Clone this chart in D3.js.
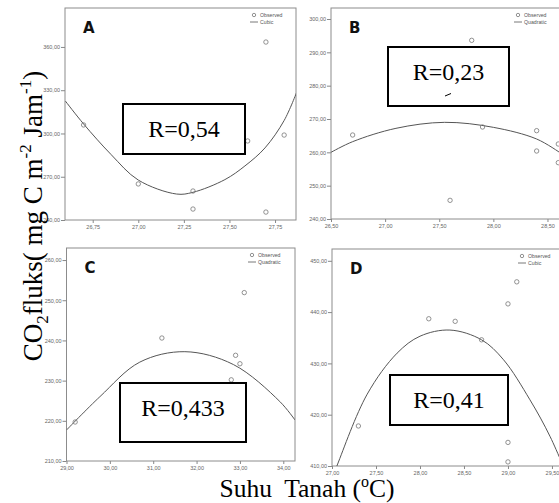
<!DOCTYPE html>
<html>
<head>
<meta charset="utf-8">
<script src="https://cdn.jsdelivr.net/npm/d3@7"></script>
<style>
	body { margin: 0; background: #fff; }
	svg { display: block; }
	.tick text { font-family: "Liberation Sans", Arial, sans-serif; font-size: 5.5px; fill: #666; }
	.tick line { stroke: #888; }
</style>
</head>
<body>
<script>

// observed points
var aObsX = [26.70, 27.00, 27.30, 27.30, 27.60, 27.70, 27.70, 27.80];
var aObsY = [305.9, 265.0, 260.1, 247.6, 294.8, 363.4, 245.5, 298.9];
var bObsX = [26.70, 27.60, 27.80, 27.90, 28.40, 28.40, 28.60, 28.60];
var bObsY = [265.2, 245.6, 293.6, 267.6, 266.5, 260.4, 262.5, 256.9];
var cObsX = [29.20, 31.20, 32.80, 32.90, 33.00, 33.10];
var cObsY = [219.7, 240.6, 230.2, 236.3, 234.2, 251.9];
var dObsX = [27.30, 28.10, 28.40, 28.70, 29.00, 29.10, 29.00, 29.00];
var dObsY = [417.8, 438.7, 438.2, 434.6, 441.6, 445.9, 414.6, 410.8];

// fitted curves, points
var aFitX = [26.60, 26.70, 26.85, 27.00, 27.21, 27.30, 27.475, 27.585, 27.695, 27.80, 27.87];
var aFitY = [322.5, 306.6, 285.5, 267.7, 258.0, 259.2, 268.0, 277.5, 290.0, 309.0, 329.0];
var bFitX = [26.50, 26.70, 27.10, 27.55, 28.00, 28.40, 28.62];
var bFitY = [260.0, 263.2, 267.2, 269.0, 267.5, 264.0, 259.8];
var cFitX = [29.00, 29.77, 30.69, 31.73, 32.85, 33.92, 34.27];
var cFitY = [217.7, 226.0, 234.6, 237.2, 234.0, 224.8, 220.2];
var dFitX = [27.00, 27.06, 27.40, 27.74, 28.00, 28.34, 28.70, 28.95, 29.25, 29.48, 29.70];
var dFitY = [407.5, 410.2, 424.0, 432.0, 435.3, 436.5, 434.6, 430.7, 422.9, 415.7, 407.0];

// tick values
var aXTicks = [26.75, 27.00, 27.25, 27.50, 27.75];
var aYTicks = [240, 270, 300, 330, 360];
var bXTicks = [26.50, 27.00, 27.50, 28.00, 28.50];
var bYTicks = [240, 250, 260, 270, 280, 290, 300];
var cXTicks = [29, 30, 31, 32, 33, 34];
var cYTicks = [210, 220, 230, 240, 250, 260];
var dXTicks = [27.00, 27.50, 28.00, 28.50, 29.00, 29.50];
var dYTicks = [410, 420, 430, 440, 450];

var panelLabels = ["A", "B", "C", "D"];
var fitLabels = ["Cubic", "Quadratic", "Quadratic", "Cubic"];
var rLabels = ["R=0,54", "R=0,23", "R=0,433", "R=0,41"];

var W = 559, H = 503;
var fmt = d3.formatLocale({decimal: ",", thousands: ".", grouping: [3], currency: ["", ""]}).format(".2f");

var svg = d3.select("body")
	.append("svg")
		.attr("width", W)
		.attr("height", H);

// panel layout: frame in pixels, domains, and the R box
var panels = [
	{ obsX: aObsX, obsY: aObsY, fitX: aFitX, fitY: aFitY, xt: aXTicks, yt: aYTicks,
	  x0: 65, x1: 296, y0: 8, y1: 220, xd: [26.598, 27.865], yd: [240, 387],
	  box: [123, 104, 122, 50], rBase: 137, legX: 254 },
	{ obsX: bObsX, obsY: bObsY, fitX: bFitX, fitY: bFitY, xt: bXTicks, yt: bYTicks,
	  x0: 331, x1: 561, y0: 8, y1: 219, xd: [26.5, 28.625], yd: [240, 303.3],
	  box: [388, 47, 121, 59], rBase: 80, legX: 518 },
	{ obsX: cObsX, obsY: cObsY, fitX: cFitX, fitY: cFitY, xt: cXTicks, yt: cYTicks,
	  x0: 66.5, x1: 295, y0: 248, y1: 461, xd: [29, 34.27], yd: [210, 263],
	  box: [120, 383, 126, 59], rBase: 416, legX: 252 },
	{ obsX: dObsX, obsY: dObsY, fitX: dFitX, fitY: dFitY, xt: dXTicks, yt: dYTicks,
	  x0: 332, x1: 570, y0: 249, y1: 466, xd: [27, 29.705], yd: [410, 452.3],
	  box: [390, 375, 118, 50], rBase: 408, legX: 522 }
];

panels.forEach(function(p, i) {
	var x = d3.scaleLinear().domain(p.xd).range([p.x0, p.x1]);
	var y = d3.scaleLinear().domain(p.yd).range([p.y1, p.y0]);
	var g = svg.append("g").attr("class", "panel");

	// clip for the fitted line
	svg.append("clipPath")
		.attr("id", "clip" + i)
		.append("rect")
			.attr("x", p.x0).attr("y", p.y0)
			.attr("width", p.x1 - p.x0).attr("height", p.y1 - p.y0);

	// frame
	g.append("rect")
		.attr("x", p.x0).attr("y", p.y0)
		.attr("width", p.x1 - p.x0).attr("height", p.y1 - p.y0)
		.attr("fill", "#fff")
		.attr("stroke", "#8c8c8c")
		.attr("stroke-width", 1);

	// axes
	g.append("g")
		.attr("transform", "translate(0," + p.y1 + ")")
		.call(d3.axisBottom(x).tickValues(p.xt).tickSize(3).tickPadding(2).tickFormat(fmt))
		.call(function(a) { a.select(".domain").remove(); });

	g.append("g")
		.attr("transform", "translate(" + p.x0 + ",0)")
		.call(d3.axisLeft(y).tickValues(p.yt).tickSize(4).tickPadding(1).tickFormat(fmt))
		.call(function(a) { a.select(".domain").remove(); });

	// fitted curve
	var fit = p.fitX.map(function(v, k) { return [v, p.fitY[k]]; });
	g.append("path")
		.datum(fit)
		.attr("clip-path", "url(#clip" + i + ")")
		.attr("fill", "none")
		.attr("stroke", "#555")
		.attr("stroke-width", 1)
		.attr("d", d3.line()
			.x(function(d) { return x(d[0]); })
			.y(function(d) { return y(d[1]); })
			.curve(d3.curveCatmullRom.alpha(0.5)));

	// observed points
	var obs = p.obsX.map(function(v, k) { return [v, p.obsY[k]]; });
	g.selectAll("circle.obs")
		.data(obs)
		.enter()
		.append("circle")
			.attr("class", "obs")
			.attr("cx", function(d) { return x(d[0]); })
			.attr("cy", function(d) { return y(d[1]); })
			.attr("r", 2.2)
			.attr("fill", "none")
			.attr("stroke", "#777")
			.attr("stroke-width", 0.8);

	// panel letter
	g.append("text")
		.attr("x", p.x0 + 18)
		.attr("y", p.y0 + 25)
		.attr("font-family", "DejaVu Sans, sans-serif")
		.attr("font-weight", "bold")
		.attr("font-size", 15)
		.attr("fill", "#111")
		.text(panelLabels[i]);

	// legend
	var lg = g.append("g")
		.attr("font-family", "Liberation Sans, Arial, sans-serif")
		.attr("font-size", 5.2)
		.attr("fill", "#555");
	lg.append("circle")
		.attr("cx", p.legX).attr("cy", p.y0 + 7)
		.attr("r", 1.7)
		.attr("fill", "none")
		.attr("stroke", "#666")
		.attr("stroke-width", 0.7);
	lg.append("text")
		.attr("x", p.legX + 6).attr("y", p.y0 + 9)
		.text("Observed");
	lg.append("line")
		.attr("x1", p.legX - 4).attr("x2", p.legX + 4)
		.attr("y1", p.y0 + 14).attr("y2", p.y0 + 14)
		.attr("stroke", "#555")
		.attr("stroke-width", 0.8);
	lg.append("text")
		.attr("x", p.legX + 6).attr("y", p.y0 + 16)
		.text(fitLabels[i]);

	// R annotation box
	g.append("rect")
		.attr("x", p.box[0]).attr("y", p.box[1])
		.attr("width", p.box[2]).attr("height", p.box[3])
		.attr("fill", "#fff")
		.attr("stroke", "#000")
		.attr("stroke-width", 2);
	g.append("text")
		.attr("x", p.box[0] + p.box[2] / 2)
		.attr("y", p.rBase)
		.attr("text-anchor", "middle")
		.attr("font-family", "Liberation Serif, Times New Roman, serif")
		.attr("font-size", 24)
		.attr("fill", "#000")
		.text(rLabels[i]);
});

// stray mark in box B
svg.append("path")
	.attr("d", "M" + 445 + "," + 96 + "l6,-2.5")
	.attr("stroke", "#000")
	.attr("stroke-width", 1);

// y axis title
var yt = svg.append("text")
	.attr("transform", "translate(42,216) rotate(-90)")
	.attr("text-anchor", "middle")
	.attr("font-family", "Liberation Serif, Times New Roman, serif")
	.attr("font-size", 27)
	.attr("fill", "#000");
yt.append("tspan").text("CO");
yt.append("tspan").attr("font-size", 17).attr("dy", 6).text("2");
yt.append("tspan").attr("dy", -6).text("fluks( mg C m");
yt.append("tspan").attr("font-size", 17).attr("dy", -11).text("-2");
yt.append("tspan").attr("dy", 11).text(" Jam");
yt.append("tspan").attr("font-size", 17).attr("dy", -11).text("-1");
yt.append("tspan").attr("dy", 11).text(")");

// x axis title
var xt = svg.append("text")
	.attr("x", 307)
	.attr("y", 497)
	.attr("text-anchor", "middle")
	.attr("font-family", "Liberation Serif, Times New Roman, serif")
	.attr("font-size", 25.5)
	.attr("fill", "#000")
	.style("white-space", "pre");
xt.append("tspan").text("Suhu  Tanah (");
xt.append("tspan").attr("font-size", 16).attr("dy", -10).text("o");
xt.append("tspan").attr("dy", 10).text("C)");

</script>
</body>
</html>
